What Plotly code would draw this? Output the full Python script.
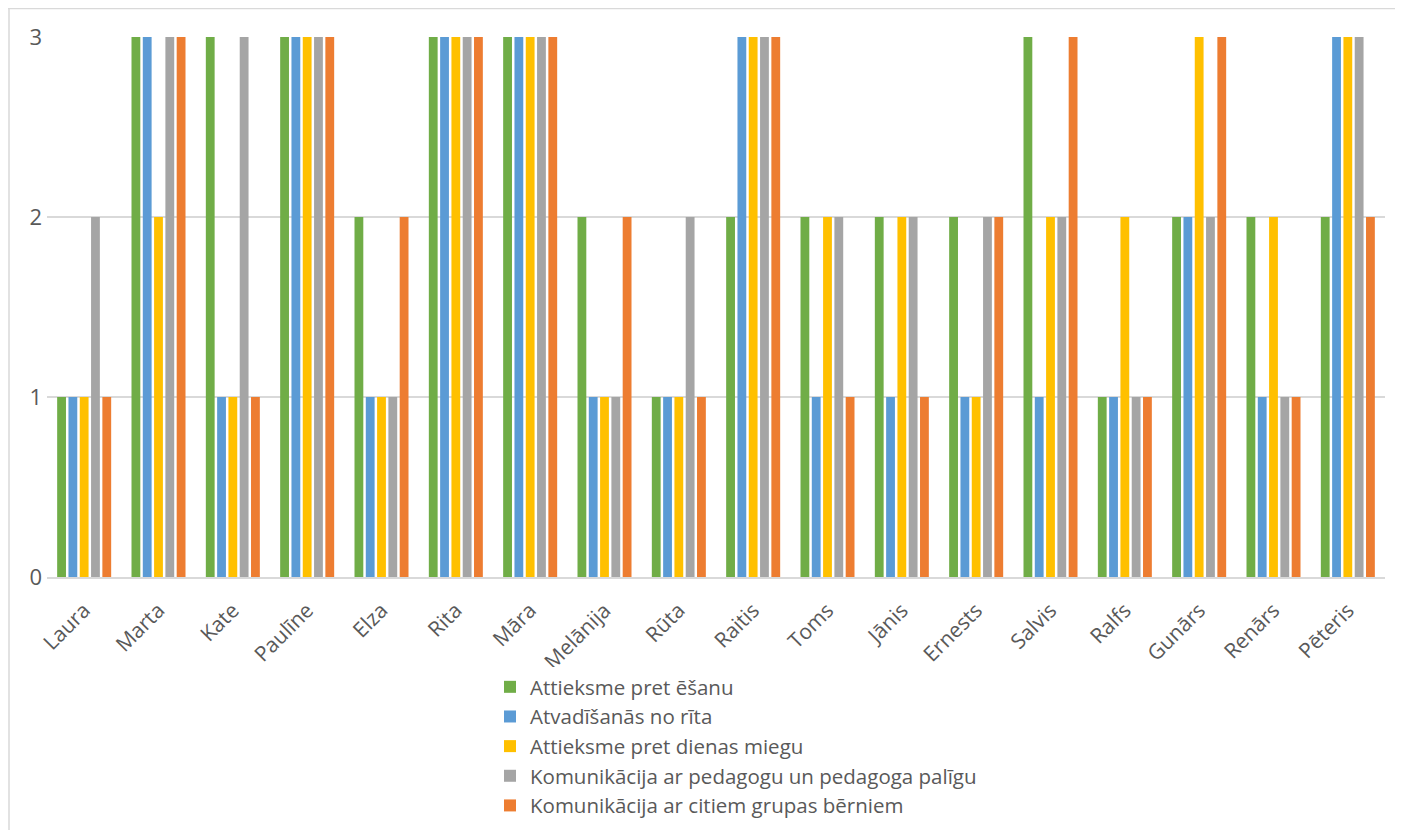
import plotly.graph_objects as go

categories = ["Laura", "Marta", "Kate", "Paulīne", "Elza", "Rita", "Māra", "Melānija", "Rūta",
              "Raitis", "Toms", "Jānis", "Ernests", "Salvis", "Ralfs", "Gunārs", "Renārs", "Pēteris"]

series_names = [
    "Attieksme pret ēšanu",
    "Atvadīšanās no rīta",
    "Attieksme pret dienas miegu",
    "Komunikācija ar pedagogu un pedagoga palīgu",
    "Komunikācija ar citiem grupas bērniem",
]

attieksme_esanu = [1, 3, 3, 3, 2, 3, 3, 2, 1, 2, 2, 2, 2, 3, 1, 2, 2, 2]
atvadisanas = [1, 3, 1, 3, 1, 3, 3, 1, 1, 3, 1, 1, 1, 1, 1, 2, 1, 3]
dienas_miegs = [1, 2, 1, 3, 1, 3, 3, 1, 1, 3, 2, 2, 1, 2, 2, 3, 2, 3]
kom_pedagogs = [2, 3, 3, 3, 1, 3, 3, 1, 2, 3, 2, 2, 2, 2, 1, 2, 1, 3]
kom_berni = [1, 3, 1, 3, 2, 3, 3, 2, 1, 3, 1, 1, 2, 3, 1, 3, 1, 2]

colors = ["#70AD47", "#5B9BD5", "#FFC000", "#A5A5A5", "#ED7D31"]
values = [attieksme_esanu, atvadisanas, dienas_miegs, kom_pedagogs, kom_berni]

fig = go.Figure()
for name, vals, c in zip(series_names, values, colors):
    fig.add_trace(go.Bar(x=categories, y=vals, name=name, marker_color=c,
                         marker_line_width=0))

OFF = 8  # page body margin
W, H = 1403 - OFF, 830 - OFF
L, R, T, B = 47 - OFF, 18, 37 - OFF, 253
pw = W - L - R
ph = H - T - B

def px_x(p):  # image pixel -> paper x
    return (p - OFF - L) / pw

def px_y(p):  # image pixel -> paper y
    return (OFF + H - B - p) / ph

FONT = "Open Sans, Lato, sans-serif"
fig.update_layout(
    width=W, height=H,
    margin=dict(l=L, r=R, t=T, b=B, autoexpand=False),
    paper_bgcolor="white", plot_bgcolor="white",
    barmode="group", bargap=0.24, bargroupgap=0.22,
    font=dict(family=FONT, size=20, color="#595959"),
    xaxis=dict(tickangle=-45, showgrid=False, showline=True, linecolor="#D9D9D9",
               linewidth=1.5, ticks="", ticklabelstandoff=11,
               tickfont=dict(family=FONT, size=21, color="#595959")),
    yaxis=dict(range=[0, 3], tickvals=[0, 1, 2, 3], showgrid=True, gridcolor="#D9D9D9",
               gridwidth=1.5, zeroline=False, ticks="", ticklabelstandoff=4,
               tickfont=dict(family=FONT, size=22, color="#595959")),
    legend=dict(orientation="v", x=px_x(490), y=px_y(667), xanchor="left", yanchor="top",
                font=dict(family=FONT, size=20.5, color="#595959"), itemwidth=30,
                tracegroupgap=0, traceorder="normal"),
    showlegend=True,
)

fig.add_shape(type="line", xref="paper", yref="paper",
              x0=px_x(8), x1=px_x(1403), y0=px_y(8.5), y1=px_y(8.5),
              line=dict(color="#D9D9D9", width=1.5))
fig.add_shape(type="line", xref="paper", yref="paper",
              x0=px_x(9), x1=px_x(9), y0=px_y(8), y1=px_y(830),
              line=dict(color="#D9D9D9", width=1.5))

fig.write_html("out.html")
